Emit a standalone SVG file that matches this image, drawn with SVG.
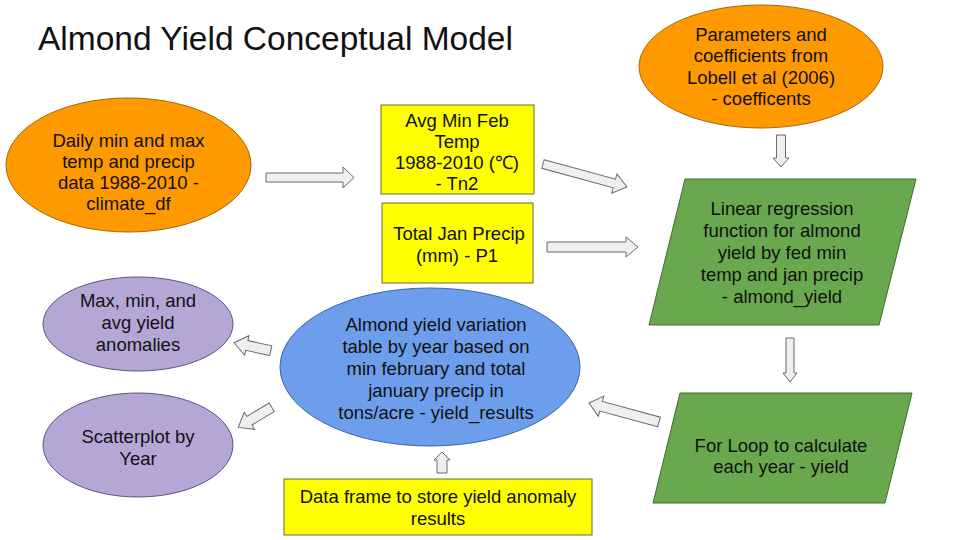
<svg xmlns="http://www.w3.org/2000/svg" width="960" height="540" viewBox="0 0 960 540">
<style>
text{font-family:"Liberation Sans",Arial,sans-serif;fill:#111;}
.t{font-size:18.5px;text-anchor:middle;}
.title{font-size:33.5px;}
.orange{fill:#ff9900;stroke:#a8660a;stroke-width:1;}
.yellow{fill:#ffff00;stroke:#6b6b3a;stroke-width:1;}
.green{fill:#6aa84f;stroke:#3f6e2a;stroke-width:1;}
.blue{fill:#6d9eeb;stroke:#3d64a8;stroke-width:1;}
.purple{fill:#b4a7d6;stroke:#5e5280;stroke-width:1;}
.arrow{fill:#efefef;stroke:#6a6a6a;stroke-width:1;stroke-linejoin:miter;}
</style>
<rect width="960" height="540" fill="#ffffff"/>
<text class="title" x="38" y="49.5">Almond Yield Conceptual Model</text>

<g id="climate_df">
<ellipse class="orange" cx="128.5" cy="165" rx="122.5" ry="67"/>
<text class="t" x="128.5" y="146.5">Daily min and max</text>
<text class="t" x="128.5" y="167.5">temp and precip</text>
<text class="t" x="128.5" y="188.5">data 1988-2010 -</text>
<text class="t" x="128.5" y="209.5">climate_df</text>
</g>

<g id="coefficients">
<ellipse class="orange" cx="761" cy="66.5" rx="122" ry="61.5"/>
<text class="t" x="761" y="40.5">Parameters and</text>
<text class="t" x="761" y="62">coefficients from</text>
<text class="t" x="761" y="83.5">Lobell et al (2006)</text>
<text class="t" x="761" y="105">- coefficents</text>
</g>

<g id="tn2">
<rect class="yellow" x="381" y="105" width="153" height="89"/>
<text class="t" x="457" y="126.5">Avg Min Feb</text>
<text class="t" x="457" y="147.5">Temp</text>
<text class="t" x="457" y="168.5">1988-2010 (℃)</text>
<text class="t" x="457" y="189.5">- Tn2</text>
</g>

<g id="p1">
<rect class="yellow" x="382" y="203" width="151" height="80"/>
<text class="t" x="459" y="240">Total Jan Precip</text>
<text class="t" x="457" y="261.5">(mm) - P1</text>
</g>

<g id="almond_yield">
<polygon class="green" points="685,179 916,179 879,325 649,325"/>
<text class="t" x="782" y="215">Linear regression</text>
<text class="t" x="782" y="237">function for almond</text>
<text class="t" x="782" y="259">yield by fed min</text>
<text class="t" x="782" y="281">temp and jan precip</text>
<text class="t" x="782" y="303">- almond_yield</text>
</g>

<g id="for_loop">
<polygon class="green" points="680,393 912,393 885,503 653,503"/>
<text class="t" x="781" y="451.5">For Loop to calculate</text>
<text class="t" x="781" y="473">each year - yield</text>
</g>

<g id="yield_results">
<ellipse class="blue" cx="430" cy="367" rx="150" ry="79"/>
<text class="t" x="436" y="330.5">Almond yield variation</text>
<text class="t" x="436" y="352.5">table by year based on</text>
<text class="t" x="436" y="374.5">min february and total</text>
<text class="t" x="436" y="396.5">january precip in</text>
<text class="t" x="436" y="418.5">tons/acre - yield_results</text>
</g>

<g id="anomalies">
<ellipse class="purple" cx="138" cy="324" rx="95" ry="47"/>
<text class="t" x="138" y="307">Max, min, and</text>
<text class="t" x="138" y="329">avg yield</text>
<text class="t" x="138" y="351">anomalies</text>
</g>

<g id="scatterplot">
<ellipse class="purple" cx="138" cy="445" rx="95" ry="52"/>
<text class="t" x="138" y="443">Scatterplot by</text>
<text class="t" x="138" y="465">Year</text>
</g>

<g id="data_frame">
<rect class="yellow" x="284" y="479" width="308" height="56"/>
<text class="t" x="438" y="503">Data frame to store yield anomaly</text>
<text class="t" x="438" y="525">results</text>
</g>

<g id="connectors">
<path class="arrow" d="M266,173 H343 V167 L354,177.5 L343,188 V182 H266 Z"/>
<path class="arrow" transform="translate(543,164) rotate(15.3)" d="M0,-4.5 H74 V-10 L87,0 L74,10 V4.5 H0 Z"/>
<path class="arrow" d="M547,242 H626 V237 L638,247 L626,257 V252 H547 Z"/>
<path class="arrow" d="M776.5,135 V158 H773 L781,167 L789,158 H785.5 V135 Z"/>
<path class="arrow" d="M786,338 V373 H783 L790,382 L797,373 H794 V338 Z"/>
<path class="arrow" transform="translate(659,422) rotate(195.2)" d="M0,-5 H60 V-10.5 L72.5,0 L60,10.5 V5 H0 Z"/>
<path class="arrow" transform="translate(270.7,350.7) rotate(192.3)" d="M0,-5 H24.5 V-10 L37.5,0 L24.5,10 V5 H0 Z"/>
<path class="arrow" transform="translate(271.7,407.3) rotate(149)" d="M0,-5 H26 V-10 L39,0 L26,10 V5 H0 Z"/>
<path class="arrow" d="M437,473 V460 H434 L442,452 L450,460 H447 V473 Z"/>
</g>
</svg>
